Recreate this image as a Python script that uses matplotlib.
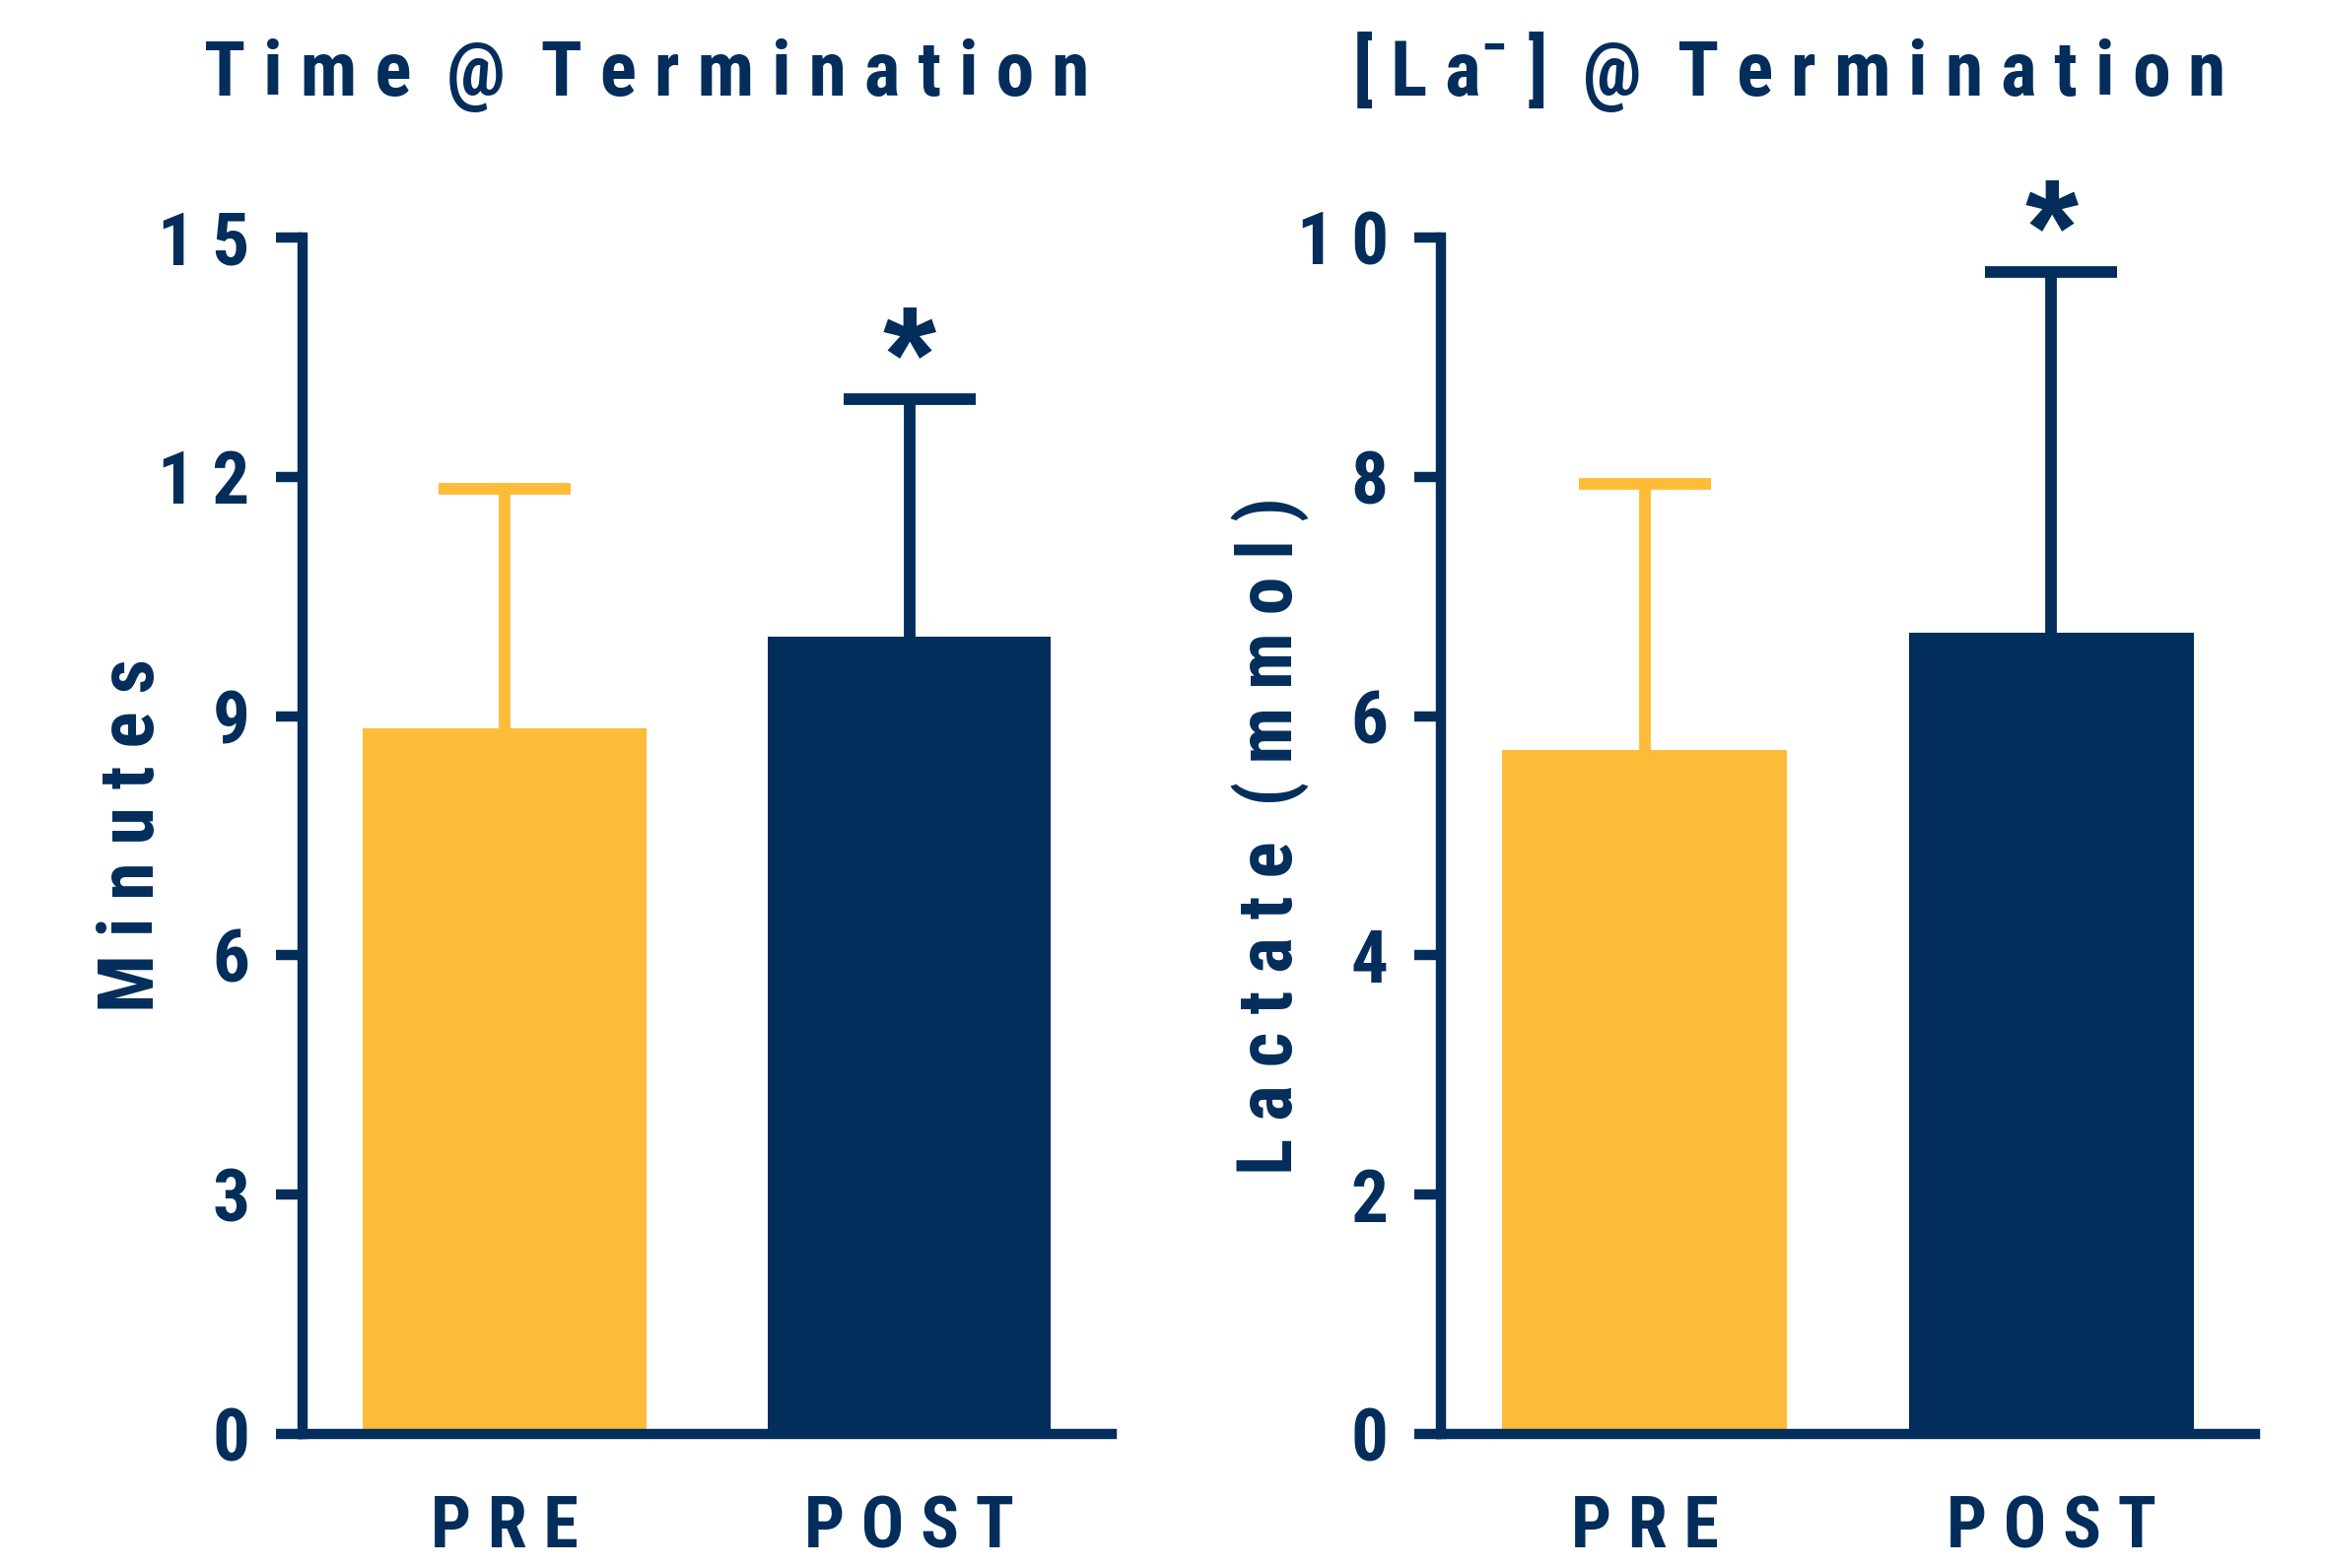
import matplotlib
matplotlib.use("Agg")
import matplotlib.pyplot as plt
from matplotlib import font_manager
from matplotlib.ticker import FuncFormatter

# ---- data ----
categories = ["PRE", "POST"]
time_means = [8.85, 10.0]
time_errs = [3.0, 2.97]
lactate_means = [5.72, 6.70]
lactate_errs = [2.22, 3.01]
time_ticks = [0, 3, 6, 9, 12, 15]
lactate_ticks = [0, 2, 4, 6, 8, 10]

NAVY = "#032D5B"
YELLOW = "#FCBC38"
bar_colors = [YELLOW, NAVY]

bold_names = {f.name for f in font_manager.fontManager.ttflist
              if (isinstance(f.weight, int) and f.weight >= 700) or f.weight in ("bold", "heavy", "black")}
prefs = ["Liberation Sans Narrow", "Arial Narrow", "Nimbus Sans Narrow", "Roboto Condensed",
         "PT Sans Narrow", "Barlow Semi Condensed", "Liberation Sans"]
chosen = [p for p in prefs if p in bold_names]
FONT = [chosen[0], "Liberation Sans", "DejaVu Sans"]
plt.rcParams["font.family"] = FONT
plt.rcParams["mathtext.fontset"] = "custom"
plt.rcParams["mathtext.rm"] = FONT[0] + ":bold"
plt.rcParams["mathtext.bf"] = FONT[0] + ":bold"

def spaced(s):
    return " ".join(s)

fig = plt.figure(figsize=(23.59, 15.91), dpi=100)
ax1 = fig.add_axes([0.1301, 0.0855, 0.348, 0.763])
ax2 = fig.add_axes([0.6198, 0.0855, 0.350, 0.763])

panels = [
    (ax1, time_means, time_errs, time_ticks, (0, 15), "M i n u t e s",
     "T i m e  @  T e r m i n a t i o n"),
    (ax2, lactate_means, lactate_errs, lactate_ticks, (0, 10), "L a c t a t e  ( m m o l )",
     r"[ L a$^{-}$ ]  @  T e r m i n a t i o n"),
]

for ax, means, errs, ticks, ylim, ylabel, title in panels:
    x = list(range(len(categories)))
    ax.bar(x, means, width=0.7, color=bar_colors, zorder=1)
    for xi, m, e, c in zip(x, means, errs, bar_colors):
        _, caps, _ = ax.errorbar([xi], [m], yerr=[[0], [e]], fmt="none", ecolor=c,
                                 elinewidth=8.5, capsize=48.5, capthick=8.5, zorder=1)
        caps[0].set_visible(False)
    # significance star above POST
    ax.annotate("*", xy=(x[1], means[1] + errs[1]), xytext=(0, -22),
                textcoords="offset points", ha="center", va="bottom",
                fontsize=100, fontweight="bold", color=NAVY,
                family=["Liberation Sans", "DejaVu Sans"])
    ax.set_xlim(-0.5, 1.5)
    ax.set_ylim(*ylim)
    ax.set_yticks(ticks)
    ax.yaxis.set_major_formatter(FuncFormatter(lambda v, p: spaced(str(int(round(v))))))
    ax.set_xticks(x)
    ax.set_xticklabels([spaced(c) for c in categories])
    for s in ["top", "right"]:
        ax.spines[s].set_visible(False)
    for s in ["left", "bottom"]:
        ax.spines[s].set_color(NAVY)
        ax.spines[s].set_linewidth(7.5)
        ax.spines[s].set_zorder(3)
    ax.tick_params(axis="y", direction="out", length=19.5, width=7.5, color=NAVY,
                   labelcolor=NAVY, labelsize=54, pad=19)
    ax.tick_params(axis="x", length=0, labelcolor=NAVY, labelsize=52, pad=44)
    for lab in ax.get_yticklabels() + ax.get_xticklabels():
        lab.set_fontweight("bold")
    ax.set_ylabel(ylabel, fontsize=56, fontweight="bold", color=NAVY, va="center")
    ax.yaxis.set_label_coords(-0.21, 0.5)
    ax.set_title(title, fontsize=56, fontweight="bold", color=NAVY, y=1.112, va="baseline")
    ax.title.set_x(0.426)

fig.savefig("out.png", dpi=100)
